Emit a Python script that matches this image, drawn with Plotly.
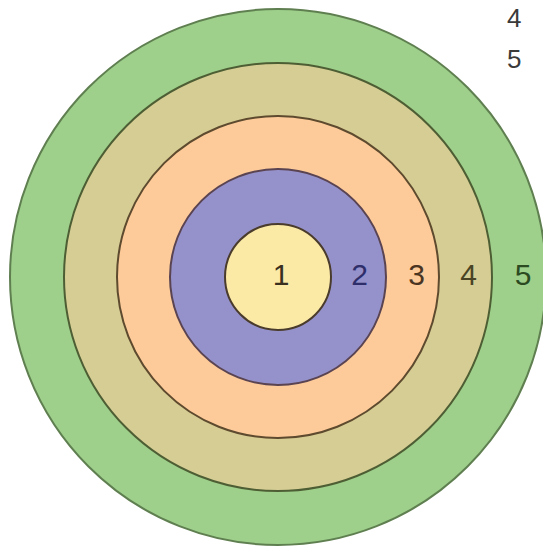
import plotly.graph_objects as go

# Data
ring_labels = ["1", "2", "3", "4", "5"]
ring_radii = [53, 108, 161, 214, 268]
ring_fill = ["#fbe9a6", "#9591ca", "#fdcb99", "#d6cd94", "#9ed08b"]
ring_edge = ["#4a3c2c", "#5a4452", "#5e4a2e", "#4e5e34", "#5f7f50"]
label_colors = ["#3a3020", "#2e2e6a", "#4a3422", "#4a4424", "#2c4a22"]
label_offset = [3, 1, 4, 3, 4]
corner_nums = ["4", "5"]
corner_words = ["Z", "C"]

# page body has an 8px margin; keep the figure inside the 551x554 window
W, H = 543, 538
cx, cy = 0, 0
# centre of target lies at page (278, 277) -> figure (270, 269)
x_range = [-270, W - 270]
y_range = [-(H - 269), 269]

fig = go.Figure()

shapes = []
for r, fc, ec in sorted(zip(ring_radii, ring_fill, ring_edge), key=lambda t: -t[0]):
    shapes.append(dict(type="circle", xref="x", yref="y",
                       x0=cx - r, x1=cx + r, y0=cy - r, y1=cy + r,
                       fillcolor=fc, line=dict(color=ec, width=2), layer="below"))

lx = []
prev = 0
for i, r in enumerate(ring_radii):
    if i == 0:
        lx.append(cx + label_offset[i])
    else:
        lx.append(cx + (prev + r) / 2 + label_offset[i])
    prev = r

fig.add_trace(go.Scatter(
    x=lx, y=[cy] * len(lx), mode="text", text=ring_labels,
    textfont=dict(size=30, color=label_colors, family="Liberation Sans, Arial, sans-serif"),
    hoverinfo="skip", showlegend=False, cliponaxis=False))

annotations = []
corner_y = [259, 218]
for num, word, yy in zip(corner_nums, corner_words, corner_y):
    annotations.append(dict(x=227, y=yy, xref="x", yref="y", text=num, showarrow=False,
                            xanchor="left", yanchor="middle",
                            font=dict(size=26, color="#3a3a3a", family="Liberation Sans, Arial, sans-serif")))
    annotations.append(dict(x=265, y=yy, xref="x", yref="y", text=word, showarrow=False,
                            xanchor="left", yanchor="middle",
                            font=dict(size=26, color="#3a3a3a", family="Liberation Sans, Arial, sans-serif")))

fig.update_layout(
    width=W, height=H,
    margin=dict(l=0, r=0, t=0, b=0),
    paper_bgcolor="white", plot_bgcolor="white",
    shapes=shapes, annotations=annotations,
    xaxis=dict(range=x_range, visible=False, fixedrange=True),
    yaxis=dict(range=y_range, visible=False, fixedrange=True),
    showlegend=False,
)

fig.write_html("out.html")
